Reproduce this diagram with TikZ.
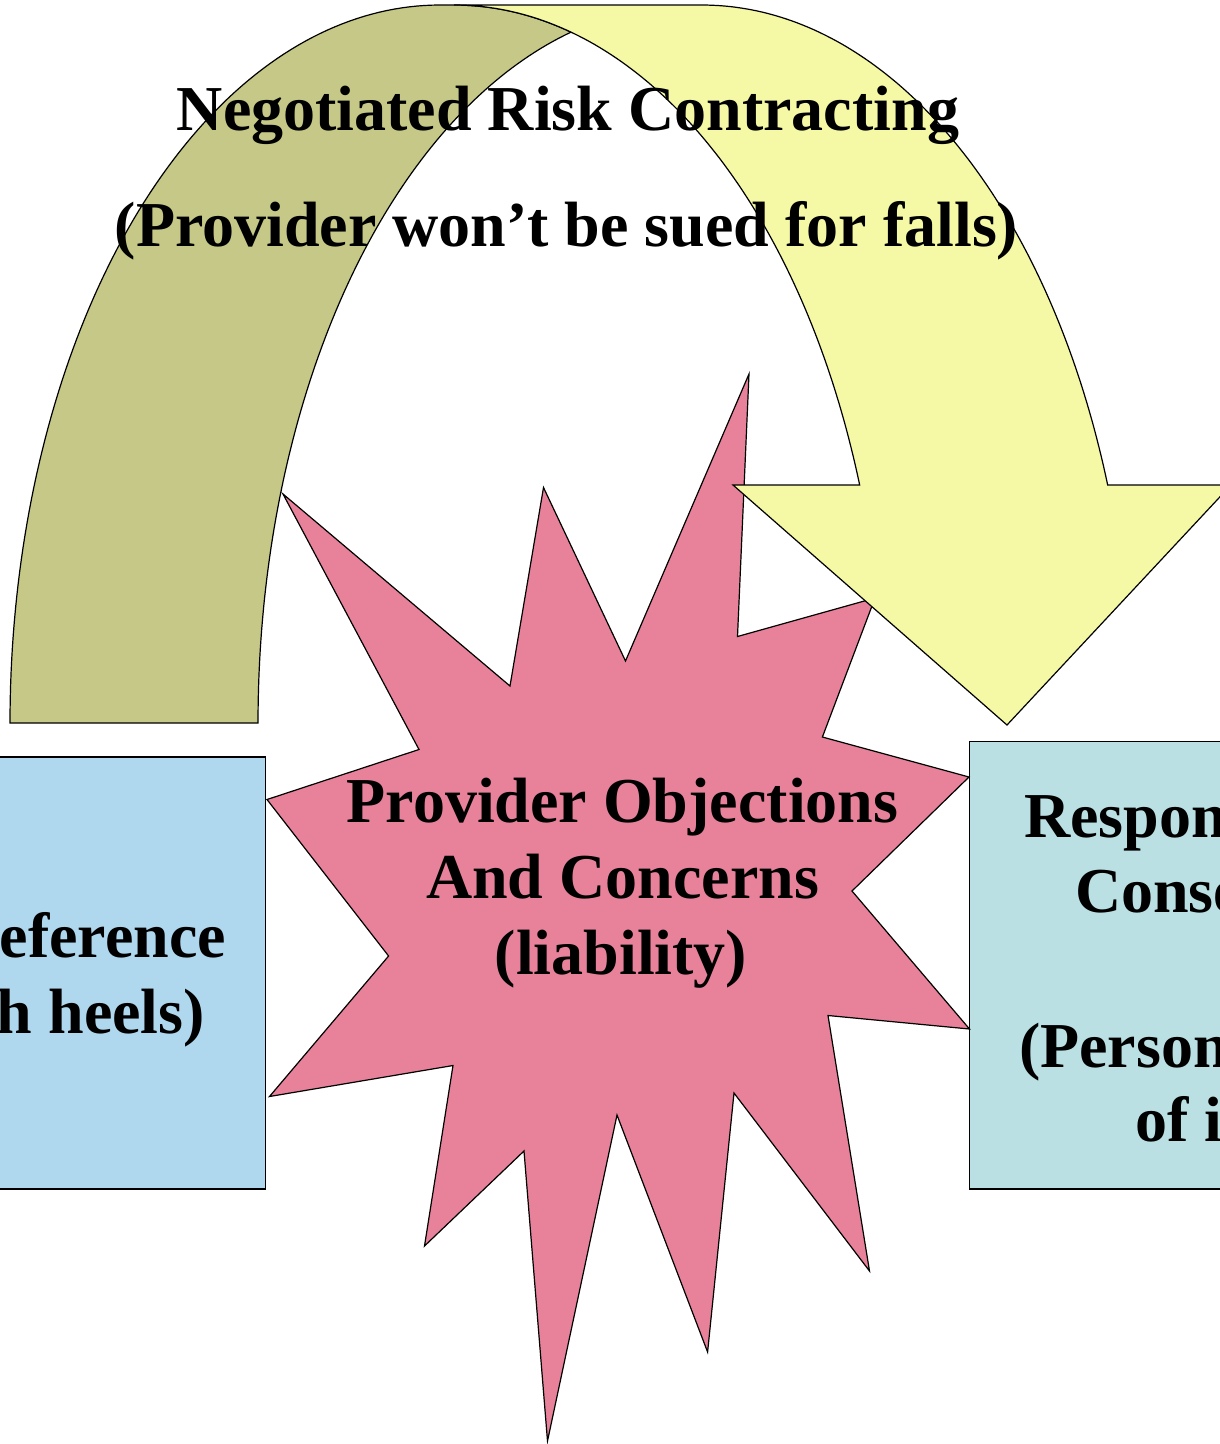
\documentclass[tikz,border=0pt]{standalone}
\usepackage{fontspec}
\setmainfont{Liberation Serif}
\definecolor{arcolive}{RGB}{197,200,134}
\definecolor{arcyellow}{RGB}{245,248,164}
\definecolor{starpink}{RGB}{232,130,154}
\definecolor{boxblue}{RGB}{175,216,238}
\definecolor{boxteal}{RGB}{186,224,227}
\begin{document}
\begin{tikzpicture}[x=1pt,y=-1pt,
  outl/.style={draw=black, line width=1.2pt, line join=miter},
  boxshape/.style={draw=black, line width=1.2pt, rectangle, inner sep=0pt, outer sep=0pt},
  lbl/.style={font=\fontsize{64}{76}\selectfont\bfseries, inner sep=0pt, outer sep=0pt, anchor=base},
]
\useasboundingbox (0,0) rectangle (1220,1444);
\clip (0,0) rectangle (1220,1444);

% side boxes
\node (leftbox) [boxshape, fill=boxblue, minimum width=285.5pt, minimum height=432pt, anchor=north east] at (265.5,757) {};
\node (rightbox) [boxshape, fill=boxteal, minimum width=270pt, minimum height=447.5pt, anchor=north west] at (969.5,741.5) {};

% back (olive) band of the curved arrow
\path[outl, fill=arcolive]
  plot[domain=180:90, samples=90] ({440+430*cos(\x)}, {723-718*sin(\x)})
  -- plot[domain=90:74.21, samples=20] ({454+430*cos(\x)}, {723-718*sin(\x)})
  -- plot[domain=105.79:180, samples=90] ({688+430*cos(\x)}, {723-718*sin(\x)})
  -- cycle;

% starburst
\path[outl, fill=starpink]
  (749,374) -- (737.5,636.5) -- (875,598) -- (822.4,737) -- (969,777)
  -- (852,891) -- (969.5,1029) -- (828,1015.5) -- (869.5,1271) -- (734,1093)
  -- (707.6,1352) -- (617,1115) -- (547.5,1441) -- (524,1151) -- (424.5,1246)
  -- (453,1065.5) -- (269.5,1096.5) -- (388.6,956) -- (267,799.5) -- (419,749.5)
  -- (283,494) -- (510,686) -- (543.5,487.5) -- (625.5,661) -- cycle;

% front (yellow) curved arrow
\path[outl, fill=arcyellow]
  (1007,725) -- (733,485)
  -- plot[domain=19.36:90, samples=90] ({454+430*cos(\x)}, {723-718*sin(\x)})
  -- plot[domain=90:19.36, samples=90] ({702+430*cos(\x)}, {723-718*sin(\x)})
  -- (1231,485) -- cycle;

% texts
\node (title1) [lbl] at (568,130) {Negotiated Risk Contracting};
\node (title2) [lbl] at (566.5,246.5) {(Provider won’t be sued for falls)};

\node (star1) [lbl] at (622.5,822) {Provider Objections};
\node (star2) [lbl] at (622.5,898) {And Concerns};
\node (star3) [lbl] at (621,974) {(liability)};

\node (ltxt1) [lbl, anchor=base east] at (226,957) {eference};
\node (ltxt2) [lbl, anchor=base east] at (205,1033) {h heels)};

\node (rtxt1) [lbl, anchor=base west] at (1024,837) {Respon};
\node (rtxt2) [lbl, anchor=base west] at (1075,912) {Conse};
\node (rtxt3) [lbl, anchor=base west] at (1019,1067) {(Person};
\node (rtxt4) [lbl, anchor=base west] at (1135,1141) {of i};
\end{tikzpicture}
\end{document}
